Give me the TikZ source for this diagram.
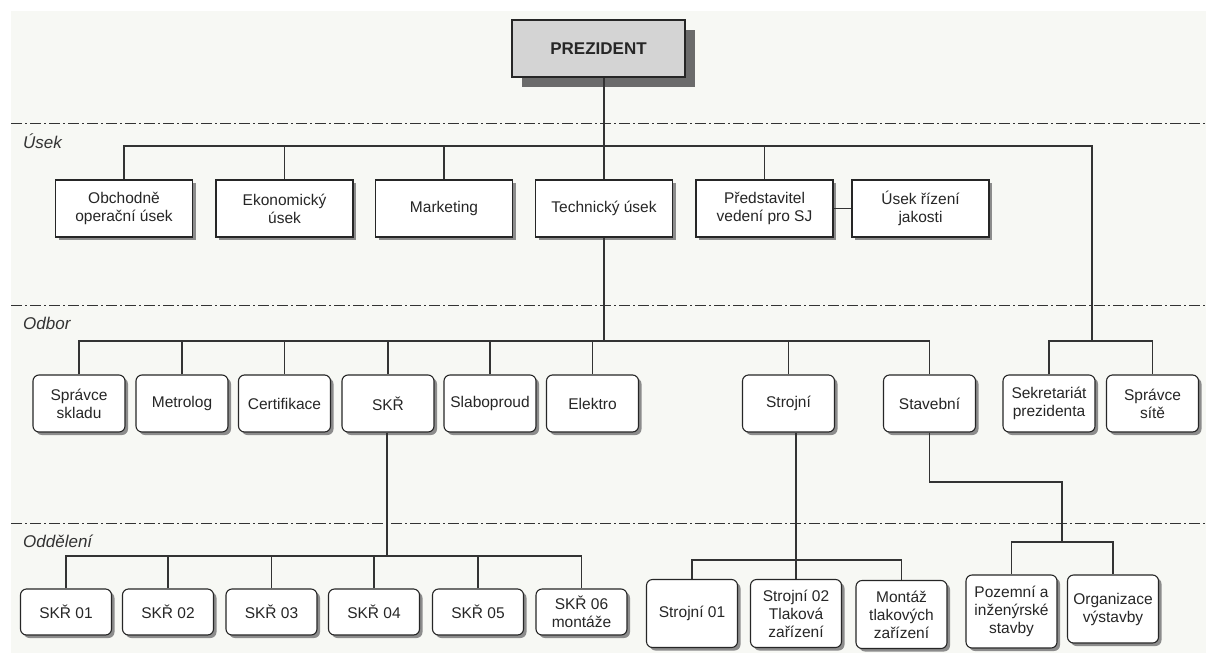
\documentclass[tikz,border=0pt]{standalone}
\usepackage{fontspec}
\setmainfont{Liberation Sans}
\usetikzlibrary{shadows}
\definecolor{paper}{RGB}{247,248,244}

\tikzset{
	unit/.style={draw=black!85, line width=1.1pt, fill=white, align=center, inner sep=0pt, text=black!85, font=\fontsize{15.5}{18}\selectfont},
	boxshadow/.style={drop shadow={shadow xshift=3pt, shadow yshift=-3pt, fill=black!45, opacity=1}},
	usekbox/.style={unit, boxshadow, minimum width=137pt, minimum height=57pt},
	odborbox/.style={unit, boxshadow, rounded corners=6pt, minimum width=92pt, minimum height=57pt},
	oddbox/.style={unit, boxshadow, rounded corners=6pt, minimum width=91pt, minimum height=46pt},
	tallbox/.style={oddbox, minimum height=68pt},
	link/.style={draw=black!80, line width=1.1pt},
	levelline/.style={draw=black!80, line width=0.9pt, dash pattern=on 11pt off 3pt on 2pt off 3pt},
	levellabel/.style={anchor=west, inner sep=0pt, text=black!80, font=\fontsize{17}{20}\selectfont\itshape}
}

\begin{document}
\begin{tikzpicture}[x=1pt, y=-1pt]
		%%%%% START %%%%%
		
		\useasboundingbox (0, 0) rectangle (1206, 653);
		\fill[paper] (11, 11) rectangle (1206, 653);
		
		\draw[levelline] (11, 123) -- (1206, 123);
		\draw[levelline] (11, 305) -- (1206, 305);
		\draw[levelline] (11, 523) -- (1206, 523);
		\node[levellabel] (lusek) at (23, 141) {Úsek};
		\node[levellabel] (lodbor) at (23, 323) {Odbor};
		\node[levellabel] (loddeleni) at (23, 541) {Oddělení};
		
		\node[unit, fill=black!17, minimum width=173pt, minimum height=57pt, font=\fontsize{17}{20}\selectfont\bfseries, drop shadow={shadow xshift=10pt, shadow yshift=-10pt, fill=black!58, opacity=1}] (prez) at (598.5, 48.5) {PREZIDENT};
		
		\node[usekbox] (obch) at (124, 208.5) {Obchodně\\operační úsek};
		\node[usekbox] (ekon) at (284.5, 208.5) {Ekonomický\\úsek};
		\node[usekbox] (mark) at (444, 208.5) {Marketing};
		\node[usekbox] (tech) at (604, 208.5) {Technický úsek};
		\node[usekbox] (pred) at (764.5, 208.5) {Představitel\\vedení pro SJ};
		\node[usekbox] (rizeni) at (920.5, 208.5) {Úsek řízení\\jakosti};
		
		\node[odborbox] (sprsk) at (79, 403.5) {Správce\\skladu};
		\node[odborbox] (metro) at (182, 403.5) {Metrolog};
		\node[odborbox] (cert) at (284.5, 403.5) {Certifikace};
		\node[odborbox] (skr) at (388, 403.5) {SKŘ};
		\node[odborbox] (slabo) at (490, 403.5) {Slaboproud};
		\node[odborbox] (elektro) at (592.5, 403.5) {Elektro};
		\node[odborbox] (strojni) at (788.5, 403.5) {Strojní};
		\node[odborbox] (stav) at (929.5, 403.5) {Stavební};
		\node[odborbox] (sekret) at (1049, 403.5) {Sekretariát\\prezidenta};
		\node[odborbox] (spsite) at (1152.5, 403.5) {Správce\\sítě};
		
		\node[oddbox] (skr01) at (66, 612) {SKŘ 01};
		\node[oddbox] (skr02) at (168, 612) {SKŘ 02};
		\node[oddbox] (skr03) at (271.5, 612) {SKŘ 03};
		\node[oddbox] (skr04) at (374, 612) {SKŘ 04};
		\node[oddbox] (skr05) at (478, 612) {SKŘ 05};
		\node[oddbox] (skr06) at (581.5, 612) {SKŘ 06\\montáže};
		
		\node[tallbox] (stroj01) at (692, 613.5) {Strojní 01};
		\node[tallbox] (stroj02) at (796, 613.5) {Strojní 02\\Tlaková\\zařízení};
		\node[tallbox] (montaz) at (901.5, 614.5) {Montáž\\tlakových\\zařízení};
		\node[tallbox, minimum height=73pt] (pozem) at (1011.5, 611.5) {Pozemní a\\inženýrské\\stavby};
		\node[tallbox] (organ) at (1113, 609) {Organizace\\výstavby};
		
		\coordinate (usbus) at (604, 146);
		\coordinate (odbus) at (604, 341);
		\coordinate (sekbus) at (1092, 341);
		\coordinate (obus) at (387, 556);
		\coordinate (sbus) at (796, 560);
		\coordinate (stjog) at (1062, 482);
		\coordinate (stbus) at (1062, 542);
		
		\draw[link] (prez.south -| usbus) -- (usbus);
		\draw[link] (obch.north) |- (usbus) -| (sekbus);
		\foreach \n in {ekon, mark, tech, pred}
			\draw[link] (\n.north) -- (\n.north |- usbus);
		\draw[link] (pred.east) -- (rizeni.west);
		
		\draw[link] (tech.south) -- (odbus);
		\draw[link] (sprsk.north) |- (odbus) -| (stav.north);
		\foreach \n in {metro, cert, skr, slabo, elektro, strojni}
			\draw[link] (\n.north) -- (\n.north |- odbus);
		\draw[link] (sekret.north) |- (sekbus) -| (spsite.north);
		
		\draw[link] (skr.south -| obus) -- (obus);
		\draw[link] (skr01.north) |- (obus) -| (skr06.north);
		\foreach \n in {skr02, skr03, skr04, skr05}
			\draw[link] (\n.north) -- (\n.north |- obus);
		
		\draw[link] (strojni.south -| sbus) -- (stroj02.north);
		\draw[link] (stroj01.north) |- (sbus) -| (montaz.north);
		
		\draw[link] (stav.south) |- (stjog) -- (stbus);
		\draw[link] (pozem.north) |- (stbus) -| (organ.north);
		
		%%%%% END %%%%%
\end{tikzpicture}
\end{document}
